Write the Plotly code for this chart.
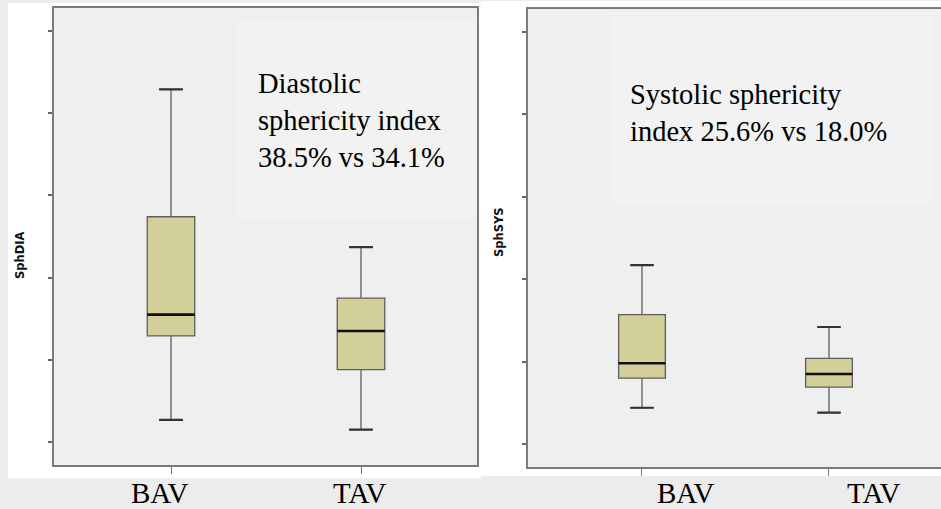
import plotly.graph_objects as go

# ---- data (y scale arbitrary, ticks unlabeled) ----
groups = ["BAV", "TAV"]
group_pos = [0, 1]

dia_low = [0.227, 0.215]
dia_q1 = [0.329, 0.288]
dia_median = [0.355, 0.335]
dia_q3 = [0.474, 0.375]
dia_high = [0.629, 0.437]

sys_low = [0.244, 0.238]
sys_q1 = [0.280, 0.269]
sys_median = [0.298, 0.285]
sys_q3 = [0.357, 0.304]
sys_high = [0.417, 0.342]

y_ticks = [0.2, 0.3, 0.4, 0.5, 0.6, 0.7]

dia_text = "Diastolic<br>sphericity index<br>38.5% vs 34.1%"
sys_text = "Systolic sphericity<br>index 25.6% vs 18.0%"

W, H = 941, 509
def px(x):
    return x / W
def py(y):
    return 1 - y / H

box_fill = "#d3cf98"
box_line = "#5e5e5e"
axis_col = "#7a7a7a"
BOX_W = 0.25

fig = go.Figure()

def flat_line(xa, ya, vals, width, color, lw):
    # a zero-height box draws a horizontal bar at the given values
    fig.add_trace(go.Box(
        x=group_pos, q1=vals, median=vals, q3=vals, lowerfence=vals, upperfence=vals,
        width=width, whiskerwidth=0, fillcolor="rgba(0,0,0,0)",
        line=dict(color=color, width=lw), boxpoints=False,
        xaxis=xa, yaxis=ya, showlegend=False, hoverinfo="skip"))

def add_boxes(xa, ya, low, q1, med, q3, high):
    fig.add_trace(go.Box(
        x=group_pos, q1=q1, median=med, q3=q3, lowerfence=low, upperfence=high,
        width=BOX_W, whiskerwidth=0.5, fillcolor=box_fill,
        line=dict(color=box_line, width=1.3), boxpoints=False,
        xaxis=xa, yaxis=ya, showlegend=False, hoverinfo="skip"))
    flat_line(xa, ya, med, BOX_W, "#111111", 2.6)          # median bar
    flat_line(xa, ya, low, BOX_W * 0.5, "#333333", 2.2)    # lower cap
    flat_line(xa, ya, high, BOX_W * 0.5, "#333333", 2.2)   # upper cap

add_boxes("x", "y", dia_low, dia_q1, dia_median, dia_q3, dia_high)
add_boxes("x2", "y2", sys_low, sys_q1, sys_median, sys_q3, sys_high)

# domains (pixel based)
L_x = [px(54), px(477)]
L_y = [py(465), py(8)]
R_x = [px(528), 1.0]
R_y = [py(467), py(9)]

common_y = dict(showgrid=False, zeroline=False, showline=True, linecolor=axis_col,
                linewidth=1.5, ticks="outside", ticklen=4, tickwidth=1.5,
                tickcolor="#666666", tickvals=y_ticks, showticklabels=False)
common_x = dict(showgrid=False, zeroline=False, showline=True, linecolor=axis_col,
                linewidth=1.5, ticks="outside", ticklen=7, tickwidth=1.2,
                tickcolor="#777777", tickvals=group_pos, showticklabels=False)

fig.update_layout(
    width=W, height=H, margin=dict(l=0, r=0, t=0, b=0),
    paper_bgcolor="#ececec", plot_bgcolor="rgba(0,0,0,0)",
    xaxis=dict(domain=L_x, range=[-0.6158, 1.6105], anchor="y", mirror=True, **common_x),
    yaxis=dict(domain=L_y, range=[0.172, 0.728], anchor="x", mirror=True, **common_y),
    xaxis2=dict(domain=R_x, range=[-0.6096, 1.599], anchor="y2", mirror=True, **common_x),
    yaxis2=dict(domain=R_y, range=[0.1721, 0.7279], anchor="x2", mirror=False, **common_y),
)

shapes = [
    # white panels
    dict(x0=px(8), x1=px(481), y0=py(478), y1=py(3), fillcolor="#ffffff"),
    dict(x0=px(481), x1=1.0, y0=py(476), y1=py(1), fillcolor="#ffffff"),
    # plot area backgrounds
    dict(x0=L_x[0], x1=L_x[1], y0=L_y[0], y1=L_y[1], fillcolor="#efefef"),
    dict(x0=R_x[0], x1=R_x[1], y0=R_y[0], y1=R_y[1], fillcolor="#efefef"),
    # text boxes
    dict(x0=px(238), x1=px(476), y0=py(218), y1=py(20), fillcolor="#f2f2f2"),
    dict(x0=px(611), x1=px(933), y0=py(205), y1=py(12), fillcolor="#f2f2f2"),
]
fig.update_layout(shapes=[dict(type="rect", xref="paper", yref="paper", layer="below",
                               line=dict(width=0), **s) for s in shapes])

serif = "Liberation Serif, Times New Roman, serif"
ann = [
    dict(text=dia_text, x=px(256), y=py(121), xanchor="left", yanchor="middle",
         align="left", font=dict(family=serif, size=28.5, color="#000")),
    dict(text=sys_text, x=px(628), y=py(113), xanchor="left", yanchor="middle",
         align="left", font=dict(family=serif, size=28.5, color="#000")),
    dict(text="<b>SphDIA</b>", x=px(20), y=py(255), textangle=-90, xanchor="center",
         yanchor="middle", font=dict(family="DejaVu Sans", size=11.5, color="#111")),
    dict(text="<b>SphSYS</b>", x=px(499), y=py(232), textangle=-90, xanchor="center",
         yanchor="middle", font=dict(family="DejaVu Sans", size=11.5, color="#111")),
]
for name, xc in zip(groups + groups, [160, 360, 686, 874]):
    ann.append(dict(text=name, x=px(xc), y=py(493), xanchor="center", yanchor="middle",
                    font=dict(family=serif, size=29, color="#000")))
fig.update_layout(annotations=[dict(xref="paper", yref="paper", showarrow=False, **a) for a in ann])

fig.write_html("out.html", config={"displayModeBar": False},
               post_script="document.body.style.margin='0px';document.body.style.overflow='hidden';")
